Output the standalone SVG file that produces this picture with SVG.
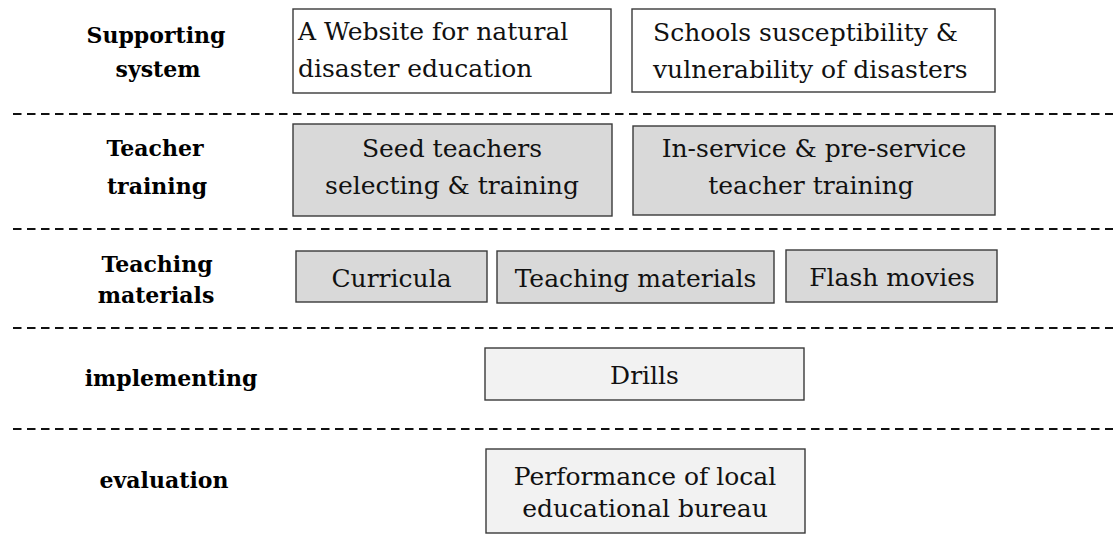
<svg xmlns="http://www.w3.org/2000/svg" width="1113" height="553" viewBox="0 0 1113 553">
<style>
.lbl{font-family:"DejaVu Serif","Liberation Serif",serif;font-weight:bold;font-size:22px;fill:#000;text-anchor:middle}
.t{font-family:"DejaVu Serif","Liberation Serif",serif;font-size:25px;fill:#111}
.c{text-anchor:middle}
.box{stroke:#3a3a3a;stroke-width:1.4}
.w{fill:#ffffff}
.g{fill:#d9d9d9}
.l{fill:#f2f2f2}
.dash{stroke:#111;stroke-width:2;stroke-dasharray:8.5 5.5;fill:none}
</style>
<rect width="1113" height="553" fill="#ffffff"/>
<g id="separators">
<line class="dash" x1="13" y1="114" x2="1113" y2="114"/>
<line class="dash" x1="13" y1="229" x2="1113" y2="229"/>
<line class="dash" x1="13" y1="328" x2="1113" y2="328"/>
<line class="dash" x1="13" y1="429" x2="1113" y2="429"/>
</g>
<g id="labels">
<text class="lbl" x="156" y="43">Supporting</text>
<text class="lbl" x="158" y="77">system</text>
<text class="lbl" x="155" y="156">Teacher</text>
<text class="lbl" x="157" y="194">training</text>
<text class="lbl" x="157" y="272">Teaching</text>
<text class="lbl" x="156" y="303">materials</text>
<text class="lbl" x="171" y="386">implementing</text>
<text class="lbl" x="164" y="488">evaluation</text>
</g>
<g id="website">
<rect class="box w" x="293" y="9" width="318" height="84"/>
<text class="t" x="298" y="40">A Website for natural</text>
<text class="t" x="298" y="77">disaster education</text>
</g>
<g id="schools">
<rect class="box w" x="632" y="9" width="363" height="83"/>
<text class="t" x="653" y="41">Schools susceptibility &amp;</text>
<text class="t" x="653" y="78">vulnerability of disasters</text>
</g>
<g id="seed">
<rect class="box g" x="293" y="124" width="319" height="92"/>
<text class="t c" x="452" y="157">Seed teachers</text>
<text class="t c" x="452" y="194">selecting &amp; training</text>
</g>
<g id="inservice">
<rect class="box g" x="633" y="126" width="362" height="89"/>
<text class="t c" x="814" y="157">In-service &amp; pre-service</text>
<text class="t c" x="811" y="194">teacher training</text>
</g>
<g id="curricula">
<rect class="box g" x="296" y="251" width="191" height="51"/>
<text class="t c" x="391.5" y="287">Curricula</text>
</g>
<g id="teachingmaterials">
<rect class="box g" x="497" y="251" width="277" height="52"/>
<text class="t c" x="635.5" y="287">Teaching materials</text>
</g>
<g id="flash">
<rect class="box g" x="786" y="250" width="211" height="52"/>
<text class="t c" x="892" y="286">Flash movies</text>
</g>
<g id="drills">
<rect class="box l" x="485" y="348" width="319" height="52"/>
<text class="t c" x="644.5" y="384">Drills</text>
</g>
<g id="performance">
<rect class="box l" x="486" y="449" width="319" height="84"/>
<text class="t c" x="645" y="485">Performance of local</text>
<text class="t c" x="645" y="517">educational bureau</text>
</g>
</svg>
